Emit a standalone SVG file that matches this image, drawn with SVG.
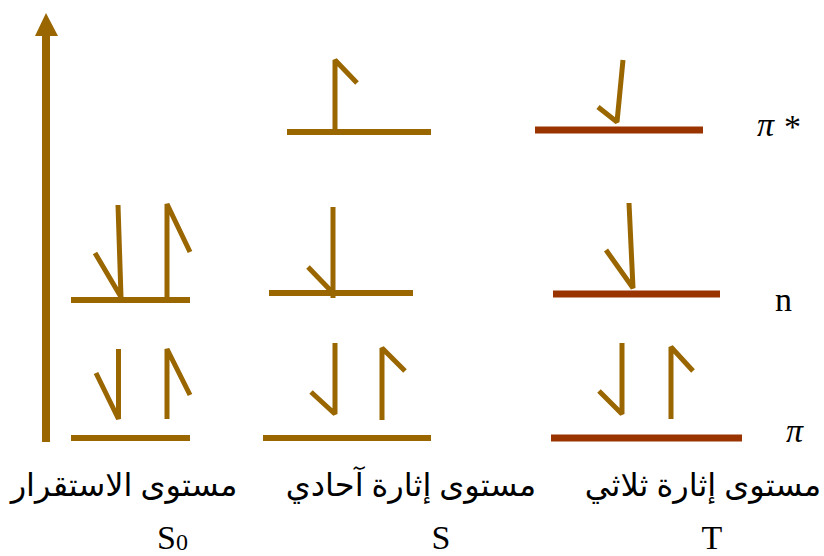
<svg xmlns="http://www.w3.org/2000/svg" width="824" height="556" viewBox="0 0 824 556">
<style>
.lvl{stroke:#996600;stroke-width:6;fill:none}
.lvlr{stroke:#993300;stroke-width:7;fill:none}
.e{stroke:#996600;stroke-width:5;fill:none;stroke-linejoin:miter;stroke-miterlimit:2}
.lbl{font-family:"Liberation Serif","Times New Roman",serif;font-size:34px;fill:#000}
.ar{font-family:"Liberation Serif","DejaVu Sans",serif;font-size:32px;fill:#000}
</style>
<g id="connectors">
<line x1="46" y1="442" x2="46" y2="34" stroke="#996600" stroke-width="8"/>
<polygon points="46,13 35,36 58,36" fill="#996600"/>
</g>
<g id="s0-n">
<line class="lvl" x1="71" y1="300" x2="190" y2="300"/>
<polyline class="e" points="118,205 121,297 95,253"/>
<polyline class="e" points="167,297 167,204 190,252"/>
</g>
<g id="s0-pi">
<line class="lvl" x1="71" y1="438" x2="190" y2="438"/>
<polyline class="e" points="118.5,349 118.5,419 96,373"/>
<polyline class="e" points="167,419 167,349 190,395"/>
</g>
<g id="s-pistar">
<line class="lvl" x1="287" y1="132" x2="431" y2="132"/>
<polyline class="e" points="335,132 335,60 357,83"/>
</g>
<g id="s-n">
<line class="lvl" x1="269" y1="293" x2="413" y2="293"/>
<polyline class="e" points="333,207 333,298"/>
<polyline class="e" points="308,267 333,293"/>
</g>
<g id="s-pi">
<line class="lvl" x1="263" y1="438" x2="431" y2="438"/>
<polyline class="e" points="335,343 335,414 311,392"/>
<polyline class="e" points="382,420 382,348 405,371"/>
</g>
<g id="t-pistar">
<line class="lvlr" x1="535" y1="130" x2="703" y2="130"/>
<polyline class="e" points="623,60 617,122 598,107"/>
</g>
<g id="t-n">
<line class="lvlr" x1="553" y1="294" x2="720" y2="294"/>
<polyline class="e" points="629,203 633,288 606,250"/>
</g>
<g id="t-pi">
<line class="lvlr" x1="551" y1="438" x2="742" y2="438"/>
<polyline class="e" points="622,343 622,414 599,391"/>
<polyline class="e" points="671,419 671,347 693,371"/>
</g>
<g id="labels">
<text class="lbl" x="757" y="136" font-size="32" font-style="italic">π</text>
<text class="lbl" x="784" y="138" font-size="30">*</text>
<text class="lbl" x="775" y="311" font-size="36">n</text>
<text class="lbl" x="786" y="442" font-size="32" font-style="italic">π</text>
<text class="ar" x="124" y="496" text-anchor="middle" direction="rtl">مستوى الاستقرار</text>
<text class="ar" x="411" y="496" text-anchor="middle" direction="rtl">مستوى إثارة آحادي</text>
<text class="ar" x="703" y="496" text-anchor="middle" direction="rtl">مستوى إثارة ثلاثي</text>
<text class="lbl" x="157" y="549">S<tspan font-size="24" dy="1">0</tspan></text>
<text class="lbl" x="441" y="549" text-anchor="middle">S</text>
<text class="lbl" x="712" y="549" text-anchor="middle">T</text>
</g>
</svg>
